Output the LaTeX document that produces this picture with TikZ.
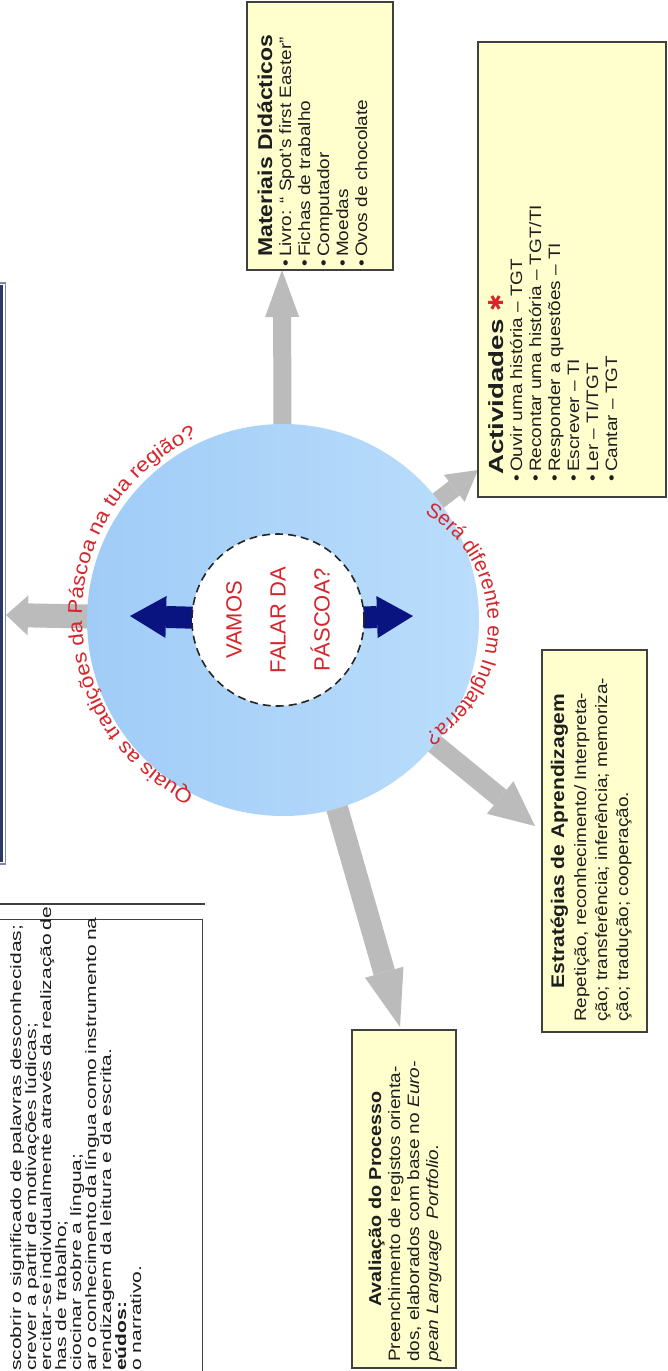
\documentclass[tikz,border=0pt]{standalone}
\usepackage{fontspec}
\setmainfont{Liberation Sans}
\newfontfamily\symfont{DejaVu Sans}
\newfontfamily\boxfont[FakeStretch=1.15]{Liberation Sans}
\newfontfamily\headwide[FakeStretch=1.35]{Liberation Sans}
\newfontfamily\goalfamily[FakeStretch=1.4]{Liberation Sans}
\newfontfamily\curvefont[FakeStretch=1.12]{Liberation Sans}
\usetikzlibrary{arrows.meta,decorations.text,calc}
\pgfdeclarelayer{paper}
\pgfdeclarelayer{under}
\pgfdeclarelayer{disclayer}
\pgfdeclarelayer{pointers}
\pgfsetlayers{paper,under,disclayer,pointers,main}

\definecolor{skyL}{RGB}{160,204,247}
\definecolor{skyR}{RGB}{186,221,251}
\definecolor{navyblk}{RGB}{10,20,128}
\definecolor{greyblk}{RGB}{187,187,187}
\definecolor{memo}{RGB}{255,255,206}
\definecolor{framec}{RGB}{64,64,64}
\definecolor{question}{RGB}{214,38,44}
\definecolor{ink}{RGB}{30,30,30}
\definecolor{planblue}{RGB}{44,58,104}
\definecolor{planedge}{RGB}{128,138,162}

\newcommand\bodyfont{\boxfont\fontsize{16.5}{16.5}\selectfont}
\newcommand\goalfont{\goalfamily\fontsize{15}{15}\selectfont}
\newcommand\bul{\makebox[10pt][l]{•}}

\begin{document}
\begin{tikzpicture}[x=1pt,y=1pt,
  memo/.style={draw=framec, line width=1.3pt, fill=memo, inner sep=0pt},
  ln/.style={rotate=90, anchor=base west, inner sep=0pt, text=ink, font=\bodyfont},
  hd/.style={ln, font={\boxfont\fontsize{#1}{#1}\selectfont\bfseries}},
  gl/.style={ln, font=\goalfont},
  greyblock/.style n args={3}{draw=greyblk, line width=#1,
    -{Triangle[width=#2, length=#3, line width=0pt]}},
  navyblock/.style={draw=navyblk, line width=22pt,
    -{Triangle[width=42pt, length=36pt, line width=0pt]}},
  question/.style n args={2}{decorate, decoration={text along path,
    text={|\color{question}#1|#2}, text align={center}}}
]
\useasboundingbox (0,0) rectangle (668,-1371);
\begin{pgfonlayer}{paper}
  \fill[white] (0,0) rectangle (668,-1371);
\end{pgfonlayer}
\clip (0,0) rectangle (668,-1371);

% ---------- central disc and core ----------
\begin{pgfonlayer}{disclayer}
  \node[circle, minimum size=392, inner sep=0, left color=skyL, right color=skyR] (disc) at (283,-620) {};
\end{pgfonlayer}
\node[circle, draw=black!85, dash pattern=on 8pt off 5pt, line width=1.6pt, fill=white,
      minimum size=172, inner sep=0] (core) at (278,-620) {};
\node[rotate=90, align=center, text=question, font=\fontsize{22}{44}\selectfont] (motto)
      at (core.center) {VAMOS\\FALAR DA\\PÁSCOA?};

% ---------- arrow ends ----------
\coordinate (tipW)   at (6,-615);
\coordinate (tipN)   at (282,-270);
\coordinate (tipAct) at (478,-470);
\coordinate (tipEst) at (535,-826);
\coordinate (tipAva) at (400,-1027);
\coordinate (tipNL)  at (130,-616);
\coordinate (tipNR)  at (413,-616);

% ---------- grey pointers out of the disc ----------
\begin{pgfonlayer}{under}
  \draw[greyblock={24pt}{40pt}{22pt}] (disc.center) -- (tipW);
  \draw[greyblock={18pt}{34pt}{47pt}] (disc.center) -- (tipN);
  \draw[greyblock={18pt}{34pt}{30pt}] (disc.center) -- (tipAct);
  \draw[greyblock={20pt}{42pt}{45pt}] (disc.center) -- (tipEst);
  \draw[greyblock={22pt}{40pt}{57pt}] (disc.center) -- (tipAva);
\end{pgfonlayer}

% ---------- navy pointers out of the core ----------
\begin{pgfonlayer}{pointers}
  \draw[navyblock] (core.center) -- (tipNL);
  \draw[navyblock] (core.center) -- (tipNR);
\end{pgfonlayer}

% ---------- questions around the disc ----------
\coordinate (arcW) at (279,-616);
\coordinate (arcE) at (360,-624);
\path[question={\curvefont\fontsize{20}{20}\selectfont}{Quais as tradições da Páscoa na tua região?}]
  ($(arcW)+(247:197)$) arc[start angle=247, end angle=112, radius=197];
\path[question={\fontsize{20.5}{20.5}\selectfont}{Será diferente em Inglaterra?}]
  ($(arcE)+(62:128)$) arc[start angle=62, end angle=-62, radius=128];

% ---------- Materiais Didácticos ----------
\node[memo, minimum width=146, minimum height=268] (mat) at (320,-136) {};
\node[hd=20] (matH) at (272,-257) {Materiais Didácticos};
\node[ln] (mat1) at (291,-267) {\bul Livro: “ Spot’s first Easter”};
\node[ln] (mat2) at (310,-267) {\bul Fichas de trabalho};
\node[ln] (mat3) at (329,-267) {\bul Computador};
\node[ln] (mat4) at (348,-267) {\bul Moedas};
\node[ln] (mat5) at (367,-267) {\bul Ovos de chocolate};

% ---------- Actividades ----------
\node[memo, minimum width=188, minimum height=455] (act) at (572,-269.5) {};
\node[ln, font={\headwide\fontsize{20.5}{20.5}\selectfont\bfseries}] (actH) at (503,-475)
     {Actividades\hspace{8pt}{\color{question}\symfont ✱}};
\node[ln] (act1) at (522,-482) {\bul Ouvir uma história – TGT};
\node[ln] (act2) at (541,-482) {\bul Recontar uma história – TGT/TI};
\node[ln] (act3) at (560,-482) {\bul Responder a questões – TI};
\node[ln] (act4) at (579,-482) {\bul Escrever – TI};
\node[ln] (act5) at (598,-482) {\bul Ler – TI/TGT};
\node[ln] (act6) at (617,-482) {\bul Cantar – TGT};

% ---------- Estratégias de Aprendizagem ----------
\node[memo, minimum width=105, minimum height=382] (est) at (594.5,-841) {};
\node[hd=18.3, anchor=base] (estH) at (564,-841) {Estratégias de Aprendizagem};
\node[ln] (est1) at (586,-1022) {Repetição, reconhecimento/ Interpreta-};
\node[ln] (est2) at (607,-1022) {ção; transferência; inferência; memoriza-};
\node[ln] (est3) at (628,-1022) {ção; tradução; cooperação.};

% ---------- Avaliação do Processo ----------
\node[memo, minimum width=104, minimum height=338] (ava) at (404,-1199) {};
\node[hd=17.2, anchor=base] (avaH) at (381,-1199) {Avaliação do Processo};
\node[ln] (ava1) at (400,-1362) {Preenchimento de registos orienta-};
\node[ln] (ava2) at (419,-1362) {dos, elaborados com base no \textit{Euro-}};
\node[ln] (ava3) at (438,-1362) {\textit{pean Language\ \ Portfolio.}};

% ---------- framed plan on the left ----------
\node[draw=planedge, line width=1.2pt, minimum width=30, minimum height=581, inner sep=0] (plan) at (-9.5,-573.5) {};
\node[draw=planblue, line width=3pt, minimum width=26, minimum height=574, inner sep=0] (planin) at (-11.5,-573.5) {};

% ---------- objectives table at the bottom left ----------
\coordinate (ruleA) at (-5,-904);
\coordinate (ruleB) at (205,-904);
\draw[framec, line width=1.3pt] (ruleA) -- (ruleB);
\node[draw=framec, line width=1.3pt, minimum width=220, minimum height=470, inner sep=0, anchor=north east] (goals) at (203,-919) {};
\node[gl] (g1) at (21,-1371) {\makebox[446pt][s]{scobrir o significado de palavras desconhecidas;}};
\node[gl] (g2) at (36,-1371) {crever a partir de motivações lúdicas;};
\node[gl] (g3) at (51,-1371) {\makebox[444pt][s]{ercitar-se individualmente através da realização de}};
\node[gl] (g4) at (66,-1371) {has de trabalho;};
\node[gl] (g5) at (81,-1371) {ciocinar sobre a língua;};
\node[gl] (g6) at (96,-1371) {\makebox[406pt][s]{ar o conhecimento da língua como instrumento na}};
\node[gl] (g7) at (111,-1371) {rendizagem da leitura e da escrita.};
\node[gl] (g8) at (126,-1371) {\textbf{eúdos:}};
\node[gl] (g9) at (141,-1371) {o narrativo.};
\end{tikzpicture}
\end{document}
